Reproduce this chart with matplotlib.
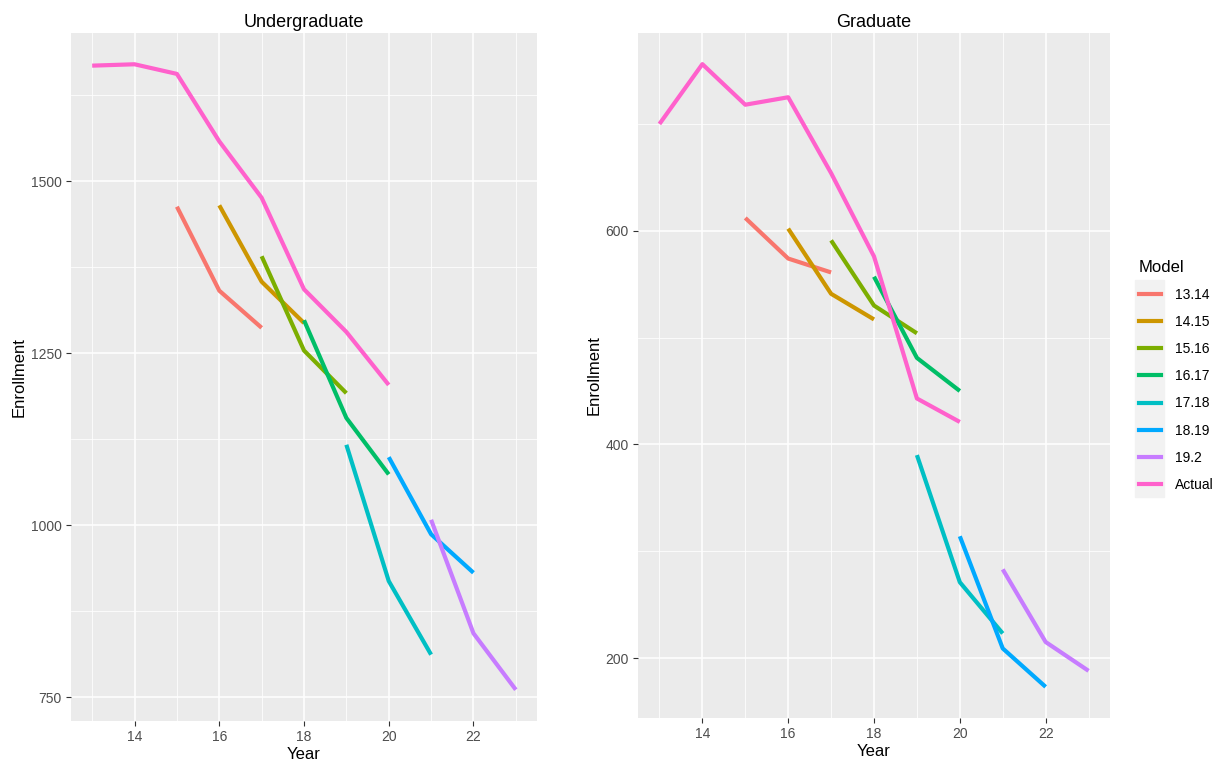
import numpy as np
import matplotlib.pyplot as plt
from matplotlib.lines import Line2D

plt.rcParams['font.family'] = ['Liberation Sans', 'DejaVu Sans']

# model labels and ggplot default hue colours
models = ['13.14', '14.15', '15.16', '16.17', '17.18', '18.19', '19.2', 'Actual']
colors = ['#F8766D', '#CD9600', '#7CAE00', '#00BE67', '#00BFC4', '#00A9FF', '#C77CFF', '#FF61CC']

# each model forecasts three years starting at these years
start_year = [15, 16, 17, 18, 19, 20, 21]
actual_years = [13, 14, 15, 16, 17, 18, 19, 20]

ug_forecast = [
    [1463, 1341, 1287],
    [1465, 1354, 1294],
    [1391, 1254, 1192],
    [1298, 1156, 1074],
    [1117, 919, 812],
    [1099, 987, 931],
    [1008, 843, 761],
]
ug_actual = [1668, 1670, 1656, 1558, 1476, 1343, 1281, 1204]

grad_forecast = [
    [612, 574, 561],
    [602, 541, 517],
    [591, 530, 504],
    [557, 481, 450],
    [390, 271, 223],
    [314, 209, 173],
    [283, 215, 188],
]
grad_actual = [700, 756, 718, 725, 654, 576, 443, 421]


def draw_panel(ax, forecast, actual, title, yticks, yminor):
    for s, vals, c in zip(start_year, forecast, colors[:-1]):
        ax.plot(np.arange(s, s + len(vals)), vals, color=c, lw=3,
                solid_capstyle='butt')
    ax.plot(actual_years, actual, color=colors[-1], lw=3, solid_capstyle='butt')

    ax.set_facecolor('#EBEBEB')
    ax.set_xlim(12.5, 23.5)
    lo = min(min(min(v) for v in forecast), min(actual))
    hi = max(max(max(v) for v in forecast), max(actual))
    pad = (hi - lo) * 0.05
    ax.set_ylim(lo - pad, hi + pad)

    ax.set_xticks([14, 16, 18, 20, 22])
    ax.set_xticks([13, 15, 17, 19, 21, 23], minor=True)
    ax.set_yticks(yticks)
    ax.set_yticks(yminor, minor=True)
    ax.grid(True, which='major', color='white', lw=1.1)
    ax.grid(True, which='minor', color='white', lw=0.55)
    ax.set_axisbelow(True)
    for sp in ax.spines.values():
        sp.set_visible(False)
    ax.tick_params(which='major', length=3.5, width=0.8, color='#333333',
                   labelsize=10, labelcolor='#4D4D4D', pad=3)
    ax.tick_params(which='minor', length=0)

    ax.set_title(title, fontsize=13, pad=4)
    ax.set_xlabel('Year', fontsize=12, labelpad=2)
    ax.set_ylabel('Enrollment', fontsize=12, labelpad=3)


fig = plt.figure(figsize=(12.18, 7.7), dpi=100)
ax1 = fig.add_axes([71 / 1218, 1 - 721 / 770, (537 - 71) / 1218, (721 - 33) / 770])
ax2 = fig.add_axes([638 / 1218, 1 - 718 / 770, (1110 - 638) / 1218, (718 - 33) / 770])

draw_panel(ax1, ug_forecast, ug_actual, 'Undergraduate',
           [750, 1000, 1250, 1500], [875, 1125, 1375, 1625])
draw_panel(ax2, grad_forecast, grad_actual, 'Graduate',
           [200, 400, 600], [300, 500, 700])

# grey strip behind the legend keys, like ggplot's key background
fig.patches.append(plt.Rectangle((1135 / 1218, 1 - 497 / 770), 29 / 1218, 217 / 770,
                                 transform=fig.transFigure, color='#F2F2F2', zorder=0))

handles = [Line2D([], [], color=c, lw=3) for c in colors]
leg = fig.legend(handles, models, title='Model', loc='upper left',
                 bbox_to_anchor=(1126 / 1218, 1 - 247 / 770), frameon=False,
                 fontsize=10, title_fontsize=12, handlelength=1.6,
                 handletextpad=1.0, labelspacing=0.95)
leg._legend_box.align = 'left'

fig.savefig('out.png', dpi=100)
